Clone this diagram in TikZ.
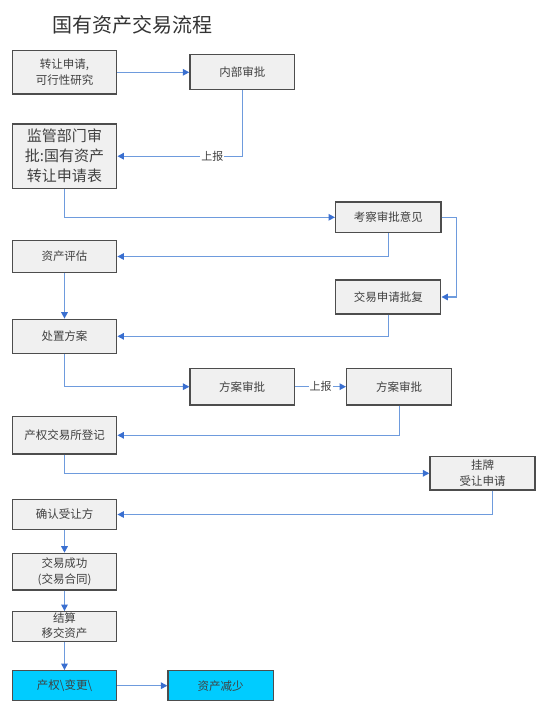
\documentclass[tikz,border=0pt]{standalone}
\usepackage{fontspec}
\setmainfont{Noto Sans CJK SC}
\usetikzlibrary{arrows.meta}
\definecolor{boxfill}{HTML}{F0F0F0}
\definecolor{boxline}{HTML}{4D4D4D}
\definecolor{linkline}{HTML}{6E9BDD}
\definecolor{tipcol}{HTML}{3A6FD0}
\definecolor{cyanfill}{HTML}{00CCFF}
\definecolor{txt}{HTML}{404040}
\tikzset{
  stepbox/.style={draw=boxline, line width=1.3pt, fill=boxfill, inner sep=0pt,
    align=center, text=txt, font=\fontsize{11.5}{16}\selectfont},
  hibox/.style={stepbox, fill=cyanfill},
  link/.style={draw=linkline, line width=1.4pt,
    -{Triangle[length=6.5pt,width=6.5pt,color=tipcol,fill=tipcol]}},
  lbl/.style={fill=white, inner sep=1pt, text=txt, font=\fontsize{11}{13}\selectfont}
}
\begin{document}
\begin{tikzpicture}[x=1pt,y=-1pt]
\useasboundingbox (0,0) rectangle (547,712);
\node[text=black!80, font=\fontsize{20}{24}\selectfont] (title) at (132,25) {国有资产交易流程};

\node[stepbox, minimum width=104.5pt, minimum height=43.3pt] (A) at (64.5,72.3) {转让申请,\\可行性研究};
\node[stepbox, minimum width=104.7pt, minimum height=35pt] (B) at (242.3,72.3) {内部审批};
\node[stepbox, minimum width=104.5pt, minimum height=64.3pt, font=\fontsize{15}{20}\selectfont] (C) at (64.5,156.2) {监管部门审\\批:国有资产\\转让申请表};
\node[stepbox, minimum width=105.3pt, minimum height=30.7pt] (D) at (388.3,217.3) {考察审批意见};
\node[stepbox, minimum width=104.5pt, minimum height=31.6pt] (E) at (64.5,256.5) {资产评估};
\node[stepbox, minimum width=105pt, minimum height=34pt] (F) at (388.3,297) {交易申请批复};
\node[stepbox, minimum width=104.5pt, minimum height=34pt] (G) at (64.5,336.3) {处置方案};
\node[stepbox, minimum width=104.3pt, minimum height=36.7pt] (H) at (242.2,386.7) {方案审批};
\node[stepbox, minimum width=105pt, minimum height=36.7pt] (I) at (399.2,386.7) {方案审批};
\node[stepbox, minimum width=104.5pt, minimum height=37.3pt] (J) at (64.5,435.3) {产权交易所登记};
\node[stepbox, minimum width=105pt, minimum height=33.3pt] (K) at (482.5,473.3) {挂牌\\受让申请};
\node[stepbox, minimum width=104.5pt, minimum height=30.3pt] (L) at (64.5,514.5) {确认受让方};
\node[stepbox, minimum width=104.5pt, minimum height=36.7pt] (M) at (64.5,571.7) {交易成功\\(交易合同)};
\node[stepbox, minimum width=104.5pt, minimum height=30pt] (N) at (64.5,626.7) {\raisebox{2.5pt}{\shortstack{结算\\[1pt]移交资产}}};
\node[hibox, minimum width=104.5pt, minimum height=30pt] (O) at (64.5,685.7) {产权\textbackslash 变更\textbackslash};
\node[hibox, minimum width=105.3pt, minimum height=30pt] (P) at (220.7,685.7) {资产减少};

\draw[link] (A) -- (B);
\draw[link] (B.south) |- node[lbl, pos=0.62] {上报} (C.east);
\draw[link] (C.south) |- (D.west);
\draw[link] (D.south) |- (E.east);
\draw[link] (D.east) -- ++(15,0) |- (F.east);
\draw[link] (E) -- (G);
\draw[link] (F.south) |- (G.east);
\draw[link] (G.south) |- (H.west);
\draw[link] (H) -- node[lbl] {上报} (I);
\draw[link] (I.south) |- (J.east);
\draw[link] (J.south) |- (K.west);
\draw[link] ([xshift=10pt]K.south) |- (L.east);
\draw[link] (L) -- (M);
\draw[link] (M) -- (N);
\draw[link] (N) -- (O);
\draw[link] (O) -- (P);
\end{tikzpicture}
\end{document}
